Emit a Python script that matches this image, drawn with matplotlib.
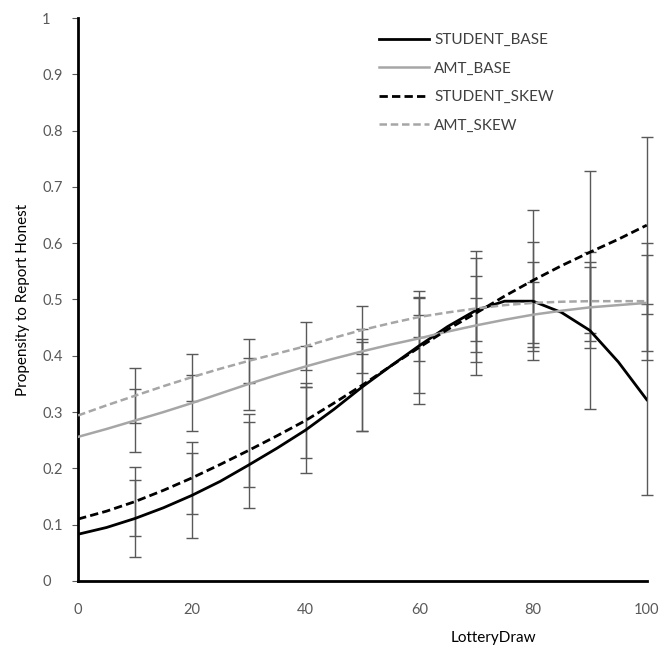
import matplotlib.pyplot as plt
import numpy as np

plt.rcParams['font.family'] = ['Lato', 'DejaVu Sans']

# lottery draw positions (curves read every 5 units)
draw = [0, 5, 10, 15, 20, 25, 30, 35, 40, 45, 50, 55, 60, 65, 70, 75, 80, 85, 90, 95, 100]
student_base = [0.083, 0.095, 0.111, 0.130, 0.152, 0.177, 0.206, 0.236, 0.268, 0.305, 0.345,
                0.382, 0.418, 0.452, 0.481, 0.497, 0.497, 0.477, 0.445, 0.389, 0.322]
amt_base = [0.256, 0.270, 0.285, 0.300, 0.316, 0.333, 0.350, 0.366, 0.381, 0.395, 0.408,
            0.420, 0.431, 0.443, 0.454, 0.464, 0.473, 0.480, 0.486, 0.490, 0.494]
student_skew = [0.110, 0.124, 0.141, 0.161, 0.183, 0.207, 0.232, 0.258, 0.285, 0.316, 0.348,
                0.382, 0.415, 0.447, 0.476, 0.506, 0.534, 0.560, 0.584, 0.607, 0.632]
amt_skew = [0.294, 0.312, 0.329, 0.346, 0.362, 0.377, 0.391, 0.404, 0.417, 0.432, 0.446,
            0.458, 0.469, 0.477, 0.484, 0.490, 0.494, 0.496, 0.497, 0.497, 0.497]

# error bars at every 10
err_x = [10, 20, 30, 40, 50, 60, 70, 80, 90, 100]
student_base_err = [0.069, 0.076, 0.077, 0.076, 0.079, 0.084, 0.092, 0.105, 0.140, 0.170]
amt_base_err = [0.056, 0.049, 0.046, 0.036, 0.039, 0.041, 0.048, 0.058, 0.072, 0.085]
student_skew_err = [0.061, 0.064, 0.065, 0.066, 0.081, 0.100, 0.110, 0.125, 0.144, 0.157]
amt_skew_err = [0.049, 0.042, 0.039, 0.043, 0.042, 0.035, 0.058, 0.072, 0.070, 0.104]

series = [
    ('STUDENT_BASE', student_base, student_base_err, 'black', '-', 2.0),
    ('AMT_BASE', amt_base, amt_base_err, '#a6a6a6', '-', 1.8),
    ('STUDENT_SKEW', student_skew, student_skew_err, 'black', (0, (3, 1.5)), 2.0),
    ('AMT_SKEW', amt_skew, amt_skew_err, '#a6a6a6', (0, (3, 1.5)), 1.8),
]

fig = plt.figure(figsize=(6.62, 6.62), dpi=100)
ax = fig.add_axes([0.118, 0.1224, 0.859, 0.8504])

for name, vals, err, col, ls, lw in series:
    ax.plot(draw, vals, color=col, linestyle=ls, linewidth=lw, label=name, zorder=3)
    centers = [vals[draw.index(x)] for x in err_x]
    eb = ax.errorbar(err_x, centers, yerr=err, fmt='none', ecolor='#595959',
                     elinewidth=1.0, capsize=4, capthick=1.0, zorder=2)
    for artist in eb.lines[1] + eb.lines[2]:
        artist.set_clip_on(False)

ax.set_xlim(0, 100)
ax.set_ylim(0, 1)
ax.set_xticks(np.arange(0, 101, 20))
ax.set_yticks(np.arange(0, 1.01, 0.1))
ax.set_yticklabels(['0', '0.1', '0.2', '0.3', '0.4', '0.5', '0.6', '0.7', '0.8', '0.9', '1'])

for s in ['top', 'right']:
    ax.spines[s].set_visible(False)
for s in ['left', 'bottom']:
    ax.spines[s].set_linewidth(2.0)
    ax.spines[s].set_color('black')

ax.tick_params(axis='y', length=4, width=0.8, colors='#595959', labelsize=10.5, pad=22)
for lbl in ax.get_yticklabels():
    lbl.set_horizontalalignment('left')
ax.tick_params(axis='x', length=0, colors='#595959', labelsize=10.5, pad=16)

ax.set_ylabel('Propensity to Report Honest', fontsize=11, color='black')
ax.yaxis.set_label_coords(-0.085, 0.5)
ax.set_xlabel('LotteryDraw', fontsize=11, color='black')
ax.xaxis.set_label_coords(0.73, -0.088)

leg = ax.legend(loc='upper left', bbox_to_anchor=(0.505, 0.998), frameon=False, fontsize=11,
                handlelength=3.3, handletextpad=0.3, labelspacing=0.95, labelcolor='#404040')

plt.savefig('out.png', dpi=100)
